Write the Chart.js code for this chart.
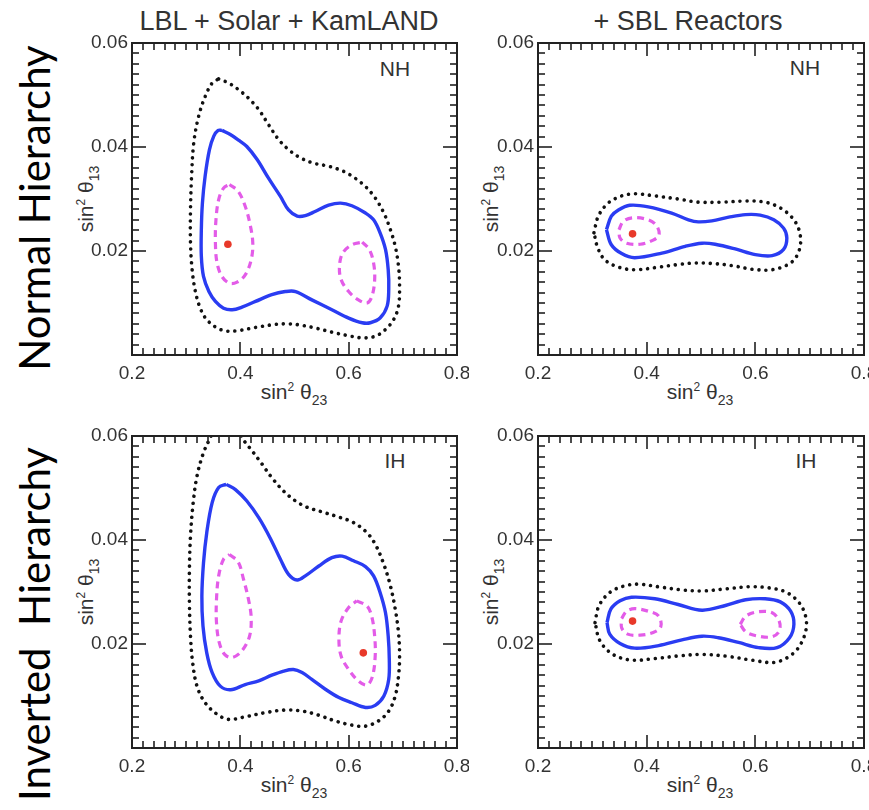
<!DOCTYPE html>
<html>
<head>
<meta charset="utf-8">
<script src="https://cdn.jsdelivr.net/npm/chart.js@4.4.1/dist/chart.umd.min.js"></script>
<style>
    body { margin: 0; background: #fff; width: 869px; height: 810px; overflow: hidden; position: relative; }
    canvas { position: absolute; }
    .txt { position: absolute; white-space: pre; font-family: "Liberation Sans", Arial, sans-serif; color: #333; line-height: 1; transform: translate(-50%, -50%); }
    .rot { transform: translate(-50%, -50%) rotate(-90deg); }
    .title { font-size: 27px; }
    .row { font-family: Lato, "Noto Sans", sans-serif; font-size: 42px; color: #000; }
    .axis { font-size: 21px; }
    .axis sup { font-size: 12px; position: relative; top: -8px; vertical-align: baseline; }
    .axis sub { font-size: 14px; position: relative; top: 6px; vertical-align: baseline; }
    .tag { font-size: 21px; }
    #status { position: absolute; left: 0; top: 0; width: 1px; height: 1px; overflow: hidden; color: #fff; font-size: 1px; }
</style>
</head>
<body>
<div id="status"></div>

<div class="txt title" style="left:289px; top:21px;">LBL + Solar + KamLAND</div>
<div class="txt title" style="left:688px; top:21px;">+ SBL Reactors</div>
<div class="txt row rot" style="left:34px; top:208px;">Normal Hierarchy</div>
<div class="txt row rot" style="left:34px; top:624px;">Inverted  Hierarchy</div>

<div class="txt axis" style="left:294px; top:391px;">sin<sup>2</sup> θ<sub>23</sub></div>
<div class="txt axis" style="left:700px; top:391px;">sin<sup>2</sup> θ<sub>23</sub></div>
<div class="txt axis" style="left:294px; top:784px;">sin<sup>2</sup> θ<sub>23</sub></div>
<div class="txt axis" style="left:700px; top:784px;">sin<sup>2</sup> θ<sub>23</sub></div>
<div class="txt axis rot" style="left:85px; top:199px;">sin<sup>2</sup> θ<sub>13</sub></div>
<div class="txt axis rot" style="left:490px; top:199px;">sin<sup>2</sup> θ<sub>13</sub></div>
<div class="txt axis rot" style="left:85px; top:592px;">sin<sup>2</sup> θ<sub>13</sub></div>
<div class="txt axis rot" style="left:490px; top:592px;">sin<sup>2</sup> θ<sub>13</sub></div>

<div class="txt tag" style="left:395px; top:68px;">NH</div>
<div class="txt tag" style="left:805px; top:67px;">NH</div>
<div class="txt tag" style="left:395px; top:460px;">IH</div>
<div class="txt tag" style="left:806px; top:460px;">IH</div>

<script>
// axis ranges and tick labels
const xRange = [0.2, 0.8];
const yRange = [0, 0.06];
const xMajor = [0.2, 0.4, 0.6, 0.8];
const yMajor = [0.02, 0.04, 0.06];
const xMinorStep = 0.02;
const yMinorStep = 0.002;

// contours: [sin^2 theta23, sin^2 theta13]
// NH, LBL + Solar + KamLAND
const nhLbl1sA = [[0.380,0.0328],[0.396,0.0315],[0.409,0.0286],[0.418,0.0251],[0.423,0.0215],[0.420,0.0183],[0.409,0.0154],[0.394,0.0140],[0.380,0.0138],[0.366,0.0151],[0.357,0.0177],[0.354,0.0215],[0.355,0.0260],[0.360,0.0299],[0.369,0.0321],[0.380,0.0328]];
const nhLbl1sB = [[0.625,0.0217],[0.638,0.0203],[0.646,0.0177],[0.648,0.0145],[0.643,0.0113],[0.634,0.0100],[0.618,0.0106],[0.600,0.0122],[0.586,0.0145],[0.583,0.0171],[0.589,0.0196],[0.606,0.0212],[0.625,0.0217]];
const nhLbl2s = [[0.366,0.0432],[0.3815,0.0424],[0.397,0.0413],[0.412,0.0401],[0.431,0.0376],[0.452,0.0340],[0.474,0.0305],[0.489,0.0279],[0.505,0.0267],[0.520,0.0268],[0.538,0.0276],[0.563,0.0288],[0.585,0.0292],[0.606,0.0287],[0.631,0.0273],[0.646,0.0260],[0.658,0.0235],[0.668,0.0203],[0.673,0.0164],[0.674,0.0126],[0.671,0.0094],[0.658,0.0071],[0.640,0.0062],[0.625,0.0062],[0.600,0.0071],[0.569,0.0087],[0.532,0.0106],[0.502,0.0122],[0.483,0.0122],[0.458,0.0116],[0.428,0.0103],[0.403,0.0092],[0.385,0.0087],[0.369,0.0090],[0.354,0.0103],[0.342,0.0122],[0.332,0.0151],[0.328,0.0190],[0.328,0.0241],[0.330,0.0292],[0.335,0.0344],[0.343,0.0395],[0.351,0.0421],[0.359,0.0432],[0.366,0.0432]];
const nhLbl3s = [[0.360,0.0531],[0.3785,0.0523],[0.397,0.0510],[0.415,0.0494],[0.434,0.0472],[0.452,0.0443],[0.471,0.0414],[0.489,0.0395],[0.511,0.0379],[0.535,0.0369],[0.563,0.0363],[0.591,0.0353],[0.612,0.0340],[0.631,0.0324],[0.649,0.0302],[0.665,0.0273],[0.677,0.0241],[0.686,0.0209],[0.692,0.0171],[0.694,0.0132],[0.692,0.0094],[0.683,0.0068],[0.668,0.0049],[0.649,0.0036],[0.625,0.0033],[0.600,0.0037],[0.569,0.0044],[0.538,0.0052],[0.508,0.0058],[0.483,0.0060],[0.458,0.0058],[0.428,0.0053],[0.397,0.0047],[0.375,0.0046],[0.357,0.0052],[0.338,0.0068],[0.326,0.0090],[0.317,0.0122],[0.311,0.0164],[0.308,0.0215],[0.308,0.0279],[0.310,0.0344],[0.314,0.0408],[0.323,0.0459],[0.335,0.0497],[0.348,0.0523],[0.360,0.0531]];
const nhLblBest = [0.377, 0.0213];

// NH, + SBL reactors
const nhSbl1s = [[0.349,0.0241],[0.357,0.0257],[0.375,0.0264],[0.403,0.0260],[0.418,0.0249],[0.423,0.0231],[0.412,0.0221],[0.388,0.0213],[0.363,0.0215],[0.351,0.0225],[0.349,0.0241]];
const nhSbl2s = [[0.326,0.0241],[0.335,0.0267],[0.348,0.0279],[0.369,0.0288],[0.403,0.0285],[0.446,0.0273],[0.477,0.0260],[0.495,0.0256],[0.520,0.0258],[0.551,0.0265],[0.582,0.0270],[0.609,0.0269],[0.634,0.0260],[0.652,0.0244],[0.658,0.0225],[0.652,0.0203],[0.631,0.0191],[0.600,0.0193],[0.563,0.0204],[0.526,0.0213],[0.502,0.0215],[0.471,0.0209],[0.428,0.0196],[0.378,0.0187],[0.354,0.0195],[0.335,0.0212],[0.326,0.0241]];
const nhSbl3s = [[0.303,0.0235],[0.311,0.0267],[0.329,0.0292],[0.354,0.0306],[0.378,0.0310],[0.415,0.0306],[0.458,0.0300],[0.495,0.0294],[0.538,0.0294],[0.582,0.0296],[0.618,0.0294],[0.649,0.0281],[0.673,0.0257],[0.683,0.0228],[0.680,0.0199],[0.665,0.0177],[0.631,0.0164],[0.594,0.0165],[0.557,0.0172],[0.520,0.0176],[0.489,0.0177],[0.458,0.0174],[0.422,0.0169],[0.378,0.0164],[0.348,0.0169],[0.323,0.0183],[0.310,0.0206],[0.303,0.0235]];
const nhSblBest = [0.374, 0.0233];

// IH, LBL + Solar + KamLAND
const ihLbl1sA = [[0.380,0.0372],[0.396,0.0358],[0.406,0.0324],[0.415,0.0286],[0.420,0.0251],[0.417,0.0215],[0.403,0.0187],[0.385,0.0174],[0.371,0.0180],[0.361,0.0203],[0.356,0.0241],[0.356,0.0286],[0.360,0.0331],[0.369,0.0363],[0.380,0.0372]];
const ihLbl1sB = [[0.615,0.0283],[0.634,0.0273],[0.643,0.0251],[0.648,0.0215],[0.649,0.0177],[0.644,0.0138],[0.634,0.0121],[0.618,0.0129],[0.600,0.0151],[0.586,0.0177],[0.582,0.0209],[0.586,0.0244],[0.600,0.0270],[0.615,0.0283]];
const ihLbl2s = [[0.374,0.0507],[0.391,0.0497],[0.412,0.0475],[0.434,0.0443],[0.455,0.0404],[0.474,0.0363],[0.489,0.0334],[0.505,0.0323],[0.520,0.0331],[0.545,0.0350],[0.569,0.0366],[0.588,0.0369],[0.609,0.0360],[0.631,0.0349],[0.646,0.0331],[0.658,0.0299],[0.668,0.0260],[0.673,0.0215],[0.675,0.0171],[0.674,0.0132],[0.665,0.0100],[0.649,0.0082],[0.631,0.0078],[0.606,0.0087],[0.582,0.0097],[0.557,0.0113],[0.532,0.0132],[0.514,0.0145],[0.498,0.0151],[0.480,0.0148],[0.458,0.0140],[0.434,0.0129],[0.409,0.0122],[0.382,0.0112],[0.363,0.0119],[0.348,0.0145],[0.338,0.0183],[0.331,0.0235],[0.329,0.0292],[0.332,0.0356],[0.338,0.0414],[0.348,0.0472],[0.360,0.0501],[0.374,0.0507]];
const ihLbl3s = [[0.346,0.0600],[0.332,0.0568],[0.320,0.0523],[0.313,0.0472],[0.308,0.0408],[0.306,0.0344],[0.306,0.0279],[0.308,0.0215],[0.312,0.0164],[0.320,0.0119],[0.335,0.0087],[0.357,0.0065],[0.378,0.0055],[0.409,0.0060],[0.446,0.0068],[0.483,0.0073],[0.514,0.0071],[0.545,0.0063],[0.575,0.0052],[0.606,0.0044],[0.631,0.0042],[0.655,0.0052],[0.674,0.0071],[0.686,0.0100],[0.692,0.0138],[0.694,0.0177],[0.692,0.0222],[0.686,0.0267],[0.677,0.0312],[0.665,0.0353],[0.649,0.0392],[0.631,0.0417],[0.606,0.0435],[0.582,0.0444],[0.551,0.0454],[0.523,0.0463],[0.502,0.0475],[0.480,0.0494],[0.458,0.0520],[0.440,0.0546],[0.422,0.0571],[0.406,0.0592],[0.394,0.0613],[0.378,0.0622],[0.360,0.0616],[0.346,0.0600]];
const ihLblBest = [0.627, 0.0183];

// IH, + SBL reactors
const ihSbl1sA = [[0.354,0.0249],[0.363,0.0263],[0.378,0.0268],[0.403,0.0263],[0.422,0.0254],[0.426,0.0233],[0.412,0.0222],[0.388,0.0217],[0.365,0.0219],[0.354,0.0231],[0.354,0.0249]];
const ihSbl1sB = [[0.572,0.0238],[0.583,0.0254],[0.606,0.0262],[0.631,0.0260],[0.644,0.0244],[0.644,0.0225],[0.631,0.0214],[0.606,0.0215],[0.583,0.0223],[0.572,0.0238]];
const ihSbl2s = [[0.327,0.0241],[0.334,0.0267],[0.351,0.0283],[0.372,0.0290],[0.415,0.0287],[0.458,0.0276],[0.502,0.0265],[0.545,0.0274],[0.582,0.0285],[0.618,0.0287],[0.646,0.0281],[0.665,0.0263],[0.671,0.0238],[0.663,0.0212],[0.640,0.0193],[0.606,0.0193],[0.569,0.0203],[0.532,0.0212],[0.502,0.0215],[0.465,0.0208],[0.422,0.0197],[0.378,0.0192],[0.351,0.0201],[0.332,0.0219],[0.327,0.0241]];
const ihSbl3s = [[0.305,0.0241],[0.312,0.0273],[0.332,0.0299],[0.360,0.0312],[0.385,0.0315],[0.422,0.0310],[0.465,0.0304],[0.502,0.0302],[0.545,0.0306],[0.588,0.0310],[0.625,0.0308],[0.658,0.0299],[0.683,0.0276],[0.694,0.0244],[0.689,0.0212],[0.671,0.0183],[0.637,0.0165],[0.594,0.0169],[0.551,0.0176],[0.502,0.0180],[0.458,0.0177],[0.415,0.0172],[0.372,0.0169],[0.338,0.0180],[0.314,0.0206],[0.305,0.0241]];
const ihSblBest = [0.374, 0.0244];

// right column canvases stop at the window edge
const panels = [
    {left: 72, top: 31, w: 325, pr: 12, s1: [nhLbl1sA, nhLbl1sB], s2: nhLbl2s, s3: nhLbl3s, best: nhLblBest},
    {left: 478, top: 31, w: 326, pr: 5, s1: [nhSbl1s], s2: nhSbl2s, s3: nhSbl3s, best: nhSblBest},
    {left: 72, top: 424, w: 325, pr: 12, s1: [ihLbl1sA, ihLbl1sB], s2: ihLbl2s, s3: ihLbl3s, best: ihLblBest},
    {left: 478, top: 424, w: 326, pr: 5, s1: [ihSbl1sA, ihSbl1sB], s2: ihSbl2s, s3: ihSbl3s, best: ihSblBest}
];

const pts = arr => arr.map(p => ({x: p[0], y: p[1]}));
const isMajor = (v, list) => list.some(m => Math.abs(m - v) < 1e-9);
const status = [];

// frame and inward ticks on all four sides, as filled bars
const frameTicks = {
    id: 'frameTicks',
    afterDraw(chart) {
        const {ctx, chartArea: a, scales: {x, y}} = chart;
        ctx.save();
        ctx.globalAlpha = 1;
        ctx.globalCompositeOperation = 'source-over';
        ctx.fillStyle = '#222';
        let n = 0;
        const nx = Math.round((xRange[1] - xRange[0]) / xMinorStep);
        for (let k = 0; k <= nx; k++) {
            const v = xRange[0] + k * xMinorStep;
            const px = Math.round(x.getPixelForValue(v));
            const len = isMajor(Math.round(v * 1000) / 1000, xMajor) ? 13 : 7;
            ctx.fillRect(px - 0.8, a.bottom - len, 1.6, len);
            ctx.fillRect(px - 0.8, a.top, 1.6, len);
            n++;
        }
        const ny = Math.round((yRange[1] - yRange[0]) / yMinorStep);
        for (let k = 0; k <= ny; k++) {
            const v = yRange[0] + k * yMinorStep;
            const py = Math.round(y.getPixelForValue(v));
            const len = isMajor(Math.round(v * 10000) / 10000, yMajor) ? 14 : 7;
            ctx.fillRect(a.left, py - 0.8, len, 1.6);
            ctx.fillRect(a.right - len, py - 0.8, len, 1.6);
            n++;
        }
        // frame
        ctx.fillRect(a.left - 1, a.top - 1, a.right - a.left + 2, 2);
        ctx.fillRect(a.left - 1, a.bottom - 1, a.right - a.left + 2, 2);
        ctx.fillRect(a.left - 1, a.top - 1, 2, a.bottom - a.top + 2);
        ctx.fillRect(a.right - 1, a.top - 1, 2, a.bottom - a.top + 2);
        ctx.restore();
        status.push(chart.id + ':' + n);
        document.getElementById('status').textContent = status.join(' ');
    }
};

Chart.defaults.font.family = '"Liberation Sans", Arial, sans-serif';
Chart.defaults.color = '#333';

panels.forEach(p => {
    const cv = document.createElement('canvas');
    cv.width = 60 + p.w + p.pr;
    cv.height = 12 + 312 + 40;
    cv.style.left = p.left + 'px';
    cv.style.top = p.top + 'px';
    document.body.appendChild(cv);

    const lineBase = {showLine: true, pointRadius: 0, fill: false, tension: 0.35};
    const datasets = [
        Object.assign({data: pts(p.s3), borderColor: '#111', borderWidth: 3.6, borderDash: [0.01, 7], borderCapStyle: 'round'}, lineBase),
        Object.assign({data: pts(p.s2), borderColor: '#2a3cf2', borderWidth: 3.4}, lineBase)
    ];
    p.s1.forEach(c => datasets.push(Object.assign({data: pts(c), borderColor: '#e35ce8', borderWidth: 3.2, borderDash: [7, 5]}, lineBase)));
    datasets.push({data: [{x: p.best[0], y: p.best[1]}], pointRadius: 3.8, pointBackgroundColor: '#e8392a', pointBorderWidth: 0, showLine: false});

    new Chart(cv, {
        type: 'scatter',
        data: {datasets: datasets},
        options: {
            responsive: false,
            devicePixelRatio: 1,
            animation: false,
            layout: {padding: {top: 12, right: p.pr, left: 0, bottom: 0}},
            plugins: {legend: {display: false}, tooltip: {enabled: false}},
            scales: {
                x: {
                    min: xRange[0], max: xRange[1],
                    grid: {display: false, drawTicks: false},
                    border: {display: false},
                    ticks: {
                        stepSize: 0.2, autoSkip: false, maxRotation: 0, padding: 7,
                        font: {size: 19},
                        callback: v => isMajor(v, xMajor) ? v.toFixed(1) : ''
                    },
                    afterFit(s) { s.height = 40; s.paddingLeft = 0; s.paddingRight = 0; }
                },
                y: {
                    min: yRange[0], max: yRange[1],
                    grid: {display: false, drawTicks: false},
                    border: {display: false},
                    ticks: {
                        stepSize: 0.02, autoSkip: false, padding: 4,
                        font: {size: 19},
                        callback: v => isMajor(v, yMajor) ? v.toFixed(2) : ''
                    },
                    afterFit(s) { s.width = 60; s.paddingTop = 0; s.paddingBottom = 0; }
                }
            }
        },
        plugins: [frameTicks]
    });
});
</script>
</body>
</html>
